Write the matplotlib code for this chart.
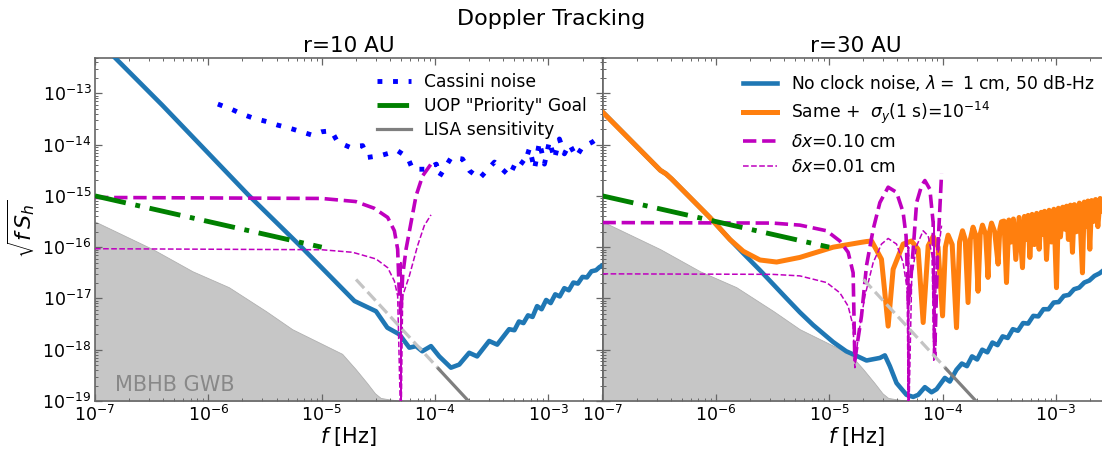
import numpy as np
import matplotlib.pyplot as plt

# values, in decades: log10(f / Hz) and log10(sqrt(f S_h))

# ---------------- r = 10 AU ----------------
blue10_lf = [-6.90, -6.844, -6.407, -5.648, -5.196, -4.711, -4.521, -4.421, -4.315, -4.227,
             -4.168, -4.113, -4.036, -3.963, -3.860, -3.787, -3.699, -3.629, -3.523, -3.452,
             -3.347, -3.30, -3.26, -3.22, -3.18, -3.14, -3.10, -3.06, -3.02, -2.98,
             -2.94, -2.90, -2.86, -2.82, -2.78, -2.74, -2.70, -2.66, -2.62, -2.58,
             -2.55, -2.50]
blue10_ly = [-12.13, -12.26, -13.23, -14.98, -15.96, -17.05, -17.25, -17.57, -17.70, -17.96,
             -17.93, -18.03, -17.93, -18.13, -18.35, -18.29, -18.06, -18.13, -17.83, -17.90,
             -17.60, -17.62, -17.45, -17.48, -17.33, -17.36, -17.15, -17.21, -17.03, -17.09,
             -16.92, -16.96, -16.80, -16.84, -16.69, -16.71, -16.58, -16.59, -16.47, -16.45,
             -16.39, -16.32]

cassini_lf = [-5.916, -5.796, -5.707, -5.608, -5.487, -5.388, -5.282, -5.179, -5.091, -5.003,
              -4.915, -4.859, -4.753, -4.639, -4.595, -4.474, -4.330, -4.242, -4.198, -4.078,
              -3.989, -3.960, -3.857, -3.758, -3.696, -3.608, -3.476, -3.344, -3.273, -3.211,
              -3.167, -3.123, -3.079, -3.035, -2.991, -2.947, -2.903, -2.859, -2.815, -2.754,
              -2.701, -2.612, -2.551]
cassini_ly = [-13.21, -13.31, -13.40, -13.48, -13.55, -13.62, -13.68, -13.75, -13.81, -13.75,
              -13.73, -13.95, -14.05, -14.02, -14.25, -14.21, -14.12, -14.25, -14.48, -14.48,
              -14.38, -14.62, -14.25, -14.28, -14.51, -14.66, -14.34, -14.61, -14.28, -14.38,
              -14.07, -14.48, -13.95, -14.38, -13.93, -14.28, -13.89, -14.18, -13.99, -14.24,
              -14.05, -13.95, -13.85]

dxA10_lf = [-7.0, -5.0, -4.701, -4.538, -4.418, -4.359, -4.330, -4.317, -4.301, -4.286,
            -4.256, -4.212, -4.168, -4.110, -4.036, -4.007]
dxA10_ly = [-15.03, -15.05, -15.11, -15.24, -15.42, -15.68, -16.04, -16.82, -17.3, -16.56,
            -16.04, -15.52, -15.00, -14.61, -14.38, -14.36]

dxB10_lf = [-7.0, -5.0, -4.727, -4.521, -4.418, -4.359, -4.330, -4.3016, -4.3013, -4.3010,
            -4.3007, -4.3004, -4.286, -4.227, -4.154, -4.095, -4.036]
dxB10_ly = [-16.03, -16.05, -16.10, -16.23, -16.40, -16.66, -16.95, -19.6, -16.3, -19.6,
            -16.3, -19.6, -16.95, -16.56, -15.97, -15.58, -15.37]

# ---------------- r = 30 AU ----------------
blue30_lf = [-7.0, -6.49, -6.44, -6.39, -6.053, -5.876, -5.758, -5.611, -5.376, -5.259,
             -5.141, -4.965, -4.85, -4.729, -4.671, -4.553, -4.509, -4.465, -4.406, -4.318,
             -4.259, -4.215, -4.156, -4.097, -4.053, -3.980, -3.936, -3.877, -3.83, -3.785,
             -3.74, -3.695, -3.65, -3.605, -3.56, -3.515, -3.47, -3.425, -3.38, -3.335,
             -3.29, -3.245, -3.20, -3.155, -3.11, -3.065, -3.02, -2.975, -2.93, -2.885,
             -2.84, -2.795, -2.75, -2.705, -2.66, -2.615, -2.58, -2.50]
blue30_ly = [-13.36, -14.50, -14.57, -14.67, -15.42, -15.85, -16.12, -16.45, -17.00, -17.27,
             -17.52, -17.85, -18.03, -18.15, -18.21, -18.16, -18.11, -18.32, -18.65, -18.88,
             -18.92, -18.88, -18.73, -18.83, -18.77, -18.55, -18.62, -18.39, -18.27, -18.32,
             -18.13, -18.19, -18.00, -18.05, -17.86, -17.91, -17.74, -17.77, -17.60, -17.63,
             -17.48, -17.49, -17.34, -17.35, -17.21, -17.21, -17.08, -17.07, -16.95, -16.93,
             -16.82, -16.79, -16.69, -16.65, -16.56, -16.51, -16.45, -16.33]

orange30_lf = [-7.02, -6.49, -6.44, -6.39, -6.053, -5.876, -5.758, -5.611, -5.464, -5.259,
               -4.965, -4.729, -4.671, -4.626, -4.539, -4.480, -4.436, -4.348, -4.274, -4.216,
               -4.171, -4.127, -4.083, -4.040, -4.000, -3.975, -3.951, -3.915, -3.877, -3.850,
               -3.824, -3.800, -3.775, -3.755, -3.731, -3.710, -3.687, -3.668, -3.648, -3.620,
               -3.599, -3.585, -3.568, -3.540, -3.510, -3.495, -3.480,
               -3.458, -3.436, -3.415, -3.395, -3.375, -3.354, -3.325, -3.295, -3.278, -3.260,
               -3.245, -3.230, -3.210, -3.190, -3.170, -3.148, -3.130, -3.115, -3.100, -3.083,
               -3.060, -3.040, -3.018, -2.995, -2.978, -2.960, -2.940, -2.922, -2.906, -2.890,
               -2.872, -2.854, -2.837, -2.820, -2.793, -2.766, -2.750, -2.735, -2.718, -2.701,
               -2.685, -2.670, -2.650, -2.630, -2.610, -2.590, -2.55]
orange30_ly = [-13.32, -14.50, -14.57, -14.67, -15.42, -15.85, -16.08, -16.25, -16.29, -16.20,
               -16.00, -15.91, -15.89, -15.88, -16.235, -17.54, -16.43, -15.94, -15.88, -16.04,
               -17.47, -15.975, -15.79, -16.00, -17.34, -16.00, -15.765, -15.95, -17.57, -15.90,
               -15.68, -15.85, -17.08, -15.85, -15.61, -15.75, -16.86, -15.75, -15.57, -15.75,
               -16.59, -15.70, -15.53, -15.70, -16.33, -15.65, -15.505,
               -15.49, -16.69, -15.47, -15.90, -15.45, -16.24, -15.42, -16.40, -15.40, -15.85,
               -15.38, -16.20, -15.36, -15.95, -15.34, -16.04, -15.32, -15.75, -15.30, -16.24,
               -15.28, -15.90, -15.26, -16.79, -15.24, -15.80, -15.22, -15.65, -15.20, -15.85,
               -15.18, -16.10, -15.17, -15.70, -15.14, -16.50, -15.12, -15.60, -15.10, -16.04,
               -15.09, -15.50, -15.07, -15.60, -15.05, -15.30, -15.02]

dxA30_lf = [-7.0, -5.5, -5.259, -5.023, -4.906, -4.833, -4.789, -4.774, -4.715, -4.671,
            -4.612, -4.553, -4.480, -4.406, -4.348, -4.322, -4.308, -4.301, -4.290, -4.259,
            -4.229, -4.185, -4.156, -4.112, -4.083, -4.070, -4.045, -4.009]
dxA30_ly = [-15.52, -15.53, -15.57, -15.68, -15.88, -16.10, -16.50, -18.20, -17.34, -16.36,
            -15.65, -15.13, -14.83, -14.93, -15.32, -15.78, -16.69, -17.1, -16.9, -16.04,
            -15.13, -14.80, -14.70, -14.87, -15.52, -18.13, -16.2, -14.57]

dxB30_lf = [-7.0, -5.5, -5.259, -5.023, -4.906, -4.833, -4.789, -4.774, -4.744, -4.685,
            -4.612, -4.539, -4.480, -4.406, -4.348, -4.312, -4.3016, -4.3013, -4.3010, -4.3007,
            -4.3004, -4.272, -4.229, -4.171, -4.127, -4.092, -4.0776, -4.0773, -4.0770, -4.0767,
            -4.0764, -4.053, -4.009]
dxB30_ly = [-16.52, -16.53, -16.56, -16.69, -16.89, -17.15, -17.54, -18.35, -17.74, -16.95,
            -16.30, -15.94, -15.83, -15.94, -16.30, -16.82, -19.6, -16.0, -19.6, -16.0,
            -19.6, -16.56, -15.975, -15.68, -15.78, -16.17, -18.2, -15.5, -18.2, -15.5,
            -18.2, -16.36, -15.58]

# ---------------- common to both panels ----------------
uop_lf = [-7.0, -5.0]
uop_ly = [-15.0, -16.0]

lisa_ext_lf = [-4.697, -3.948]
lisa_ext_ly = [-16.63, -18.42]
lisa_lf = [-3.97, -3.55]
lisa_ly = [-18.37, -19.37]

gwb_lf = [-7.0, -6.49, -6.14, -5.82, -5.49, -5.26, -4.82, -4.70, -4.60, -4.53,
          -4.48, -4.40, -4.32, -4.28]
gwb_ly = [-15.50, -16.04, -16.47, -16.78, -17.25, -17.60, -18.08, -18.38, -18.65, -18.85,
          -18.94, -18.97, -18.99, -19.4]


def dec(a):
    return 10.0 ** np.asarray(a)


fig = plt.figure(figsize=(11.02, 4.49), dpi=100)
axL = fig.add_axes([95 / 1102, 48 / 449, 507.5 / 1102, 343.5 / 449])
axR = fig.add_axes([602.5 / 1102, 48 / 449, 507.5 / 1102, 343.5 / 449], sharey=axL)

for ax in (axL, axR):
    ax.set_xscale('log')
    ax.set_yscale('log')
    # background pieces shared by both panels
    ax.fill_between(dec(gwb_lf), 1e-22, dec(gwb_ly), color='#c6c6c6', lw=0.6,
                    edgecolor='#b0b0b0', zorder=1)
    ax.plot(dec(uop_lf), dec(uop_ly), color='g', lw=3.5, dashes=(6.5, 2, 1, 2), zorder=6,
            label='UOP "Priority" Goal')

# left panel
axL.plot(dec(blue10_lf), dec(blue10_ly), color='#1f77b4', lw=3.3, zorder=3)
axL.plot(dec(dxA10_lf), dec(dxA10_ly), color='m', lw=2.6, ls='--', zorder=5)
axL.plot(dec(dxB10_lf), dec(dxB10_ly), color='m', lw=1.1, ls='--', zorder=5)
axL.plot(dec(cassini_lf), dec(cassini_ly), color='b', lw=3.5, dashes=(1, 2.2), zorder=7,
         label='Cassini noise')

# right panel
axR.plot(dec(blue30_lf), dec(blue30_ly), color='#1f77b4', lw=3.3, zorder=3,
         label=r'No clock noise, $\lambda =$ 1 cm, 50 dB-Hz')
axR.plot(dec(orange30_lf), dec(orange30_ly), color='#ff7f0e', lw=3.6, zorder=4,
         label=r'Same +  $\sigma_y$(1 s)=$10^{-14}$')
axR.plot(dec(dxA30_lf), dec(dxA30_ly), color='m', lw=2.6, ls='--', zorder=5,
         label=r'$\delta x$=0.10 cm')
axR.plot(dec(dxB30_lf), dec(dxB30_ly), color='m', lw=1.1, ls='--', zorder=5,
         label=r'$\delta x$=0.01 cm')

for ax in (axL, axR):
    ax.plot(dec(lisa_ext_lf), dec(lisa_ext_ly), color='#c4c4c4', lw=2.3, ls='--', zorder=6)
    ax.plot(dec(lisa_lf), dec(lisa_ly), color='#7f7f7f', lw=2.3, zorder=6,
            label='LISA sensitivity')

    ax.set_xlim(1e-7, 3e-3)
    ax.set_ylim(1e-19, 5e-13)
    ax.set_xlabel(r'$f$ [Hz]', fontsize=15, labelpad=0)
    ax.tick_params(which='both', direction='in', top=True, right=True, labelsize=12.5,
                   color='0.4')
    ax.tick_params(which='major', length=5, width=0.9, pad=2.5)
    ax.tick_params(which='minor', length=2.5, width=0.7)
    for s in ax.spines.values():
        s.set_color('0.4')
        s.set_linewidth(1.2)

axR.tick_params(labelleft=False)
axL.set_ylabel(r'$\sqrt{f\,S_h}$', fontsize=16)
axL.set_title('r=10 AU', fontsize=15.5, pad=4)
axR.set_title('r=30 AU', fontsize=15.5, pad=4)
fig.suptitle('Doppler Tracking', fontsize=16, y=0.98)

axL.text(0.04, 0.047, 'MBHB GWB', transform=axL.transAxes, fontsize=15,
         color='#888888', ha='left', va='center', zorder=8)

hL, lL = axL.get_legend_handles_labels()
order = [lL.index('Cassini noise'), lL.index('UOP "Priority" Goal'), lL.index('LISA sensitivity')]
axL.legend([hL[i] for i in order], [lL[i] for i in order], loc='upper right',
           frameon=False, fontsize=12.3, labelspacing=0.35)

hR, lR = axR.get_legend_handles_labels()
keep = [i for i, l in enumerate(lR) if l not in ('UOP "Priority" Goal', 'LISA sensitivity')]
axR.legend([hR[i] for i in keep], [lR[i] for i in keep], loc='upper right',
           frameon=False, fontsize=12.3, labelspacing=0.4)

fig.savefig('out.png', dpi=100)
